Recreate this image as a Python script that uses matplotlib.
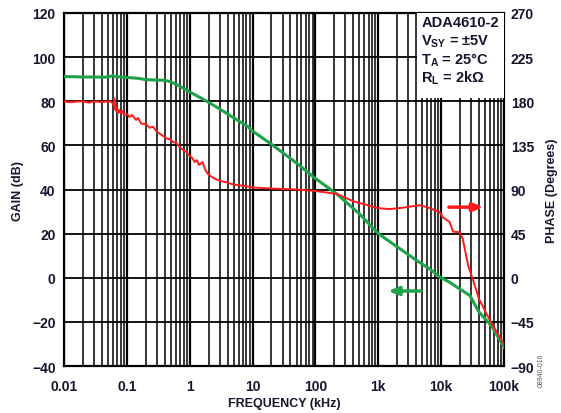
import matplotlib
matplotlib.use("Agg")
import matplotlib.pyplot as plt
from matplotlib.ticker import LogLocator, FixedLocator, NullFormatter
from matplotlib.patches import Rectangle

plt.rcParams['font.family'] = ['Liberation Sans', 'DejaVu Sans']
plt.rcParams['font.weight'] = 'bold'
plt.rcParams['mathtext.fontset'] = 'custom'
plt.rcParams['mathtext.rm'] = 'Liberation Sans:bold'
plt.rcParams['mathtext.it'] = 'Liberation Sans:bold'
plt.rcParams['mathtext.bf'] = 'Liberation Sans:bold'

# Open-loop gain (dB) versus frequency (kHz)
gain_freq = [0.01, 0.015, 0.02, 0.03, 0.04, 0.05, 0.06, 0.065, 0.08, 0.1, 0.15,
             0.2, 0.3, 0.4, 0.5, 0.7, 1, 1.5, 2, 3, 5, 8.4, 10, 20, 50, 100,
             218, 500, 1000, 2000, 4000, 6600, 9500, 13600, 19500, 28500,
             40000, 64000, 100000]
gain_db = [91.2, 91.1, 91.0, 91.0, 90.9, 91.0, 91.6, 91.2, 91.0, 90.8, 90.4,
           89.8, 89.6, 89.5, 88.8, 86.8, 84.2, 81.5, 79.5, 76.5, 72.5, 68.5,
           66.5, 60.5, 52.0, 45.0, 38.0, 29.0, 20.0, 14.0, 8.0, 4.0, 0.3, -2.0,
           -5.0, -8.0, -15.5, -22.0, -31.5]

# Open-loop phase (degrees) versus frequency (kHz)
phase_freq = [0.01, 0.012, 0.015, 0.02, 0.025, 0.03, 0.04, 0.05, 0.055, 0.06,
              0.062, 0.063, 0.064, 0.066, 0.068, 0.07, 0.073, 0.075, 0.08,
              0.085, 0.09, 0.1, 0.11, 0.12, 0.14, 0.15, 0.17, 0.2, 0.23, 0.26,
              0.3, 0.35, 0.43, 0.5, 0.55, 0.6, 0.7, 0.8, 0.9, 1, 1.1, 1.2, 1.3,
              1.4, 1.6, 1.8, 2, 2.5, 3, 4, 5, 7.6, 10, 20, 50, 100, 218, 400,
              1000, 1500, 2500, 4500, 6000, 9500, 10500, 13600, 15500, 19500,
              22000, 27000, 33000, 40000, 58000, 100000]
phase_deg = [180, 179, 179.5, 180, 178.5, 180, 179, 180, 179.5, 178,
             176, 183, 172, 177, 170, 173, 168, 171, 168,
             170, 166, 167, 164, 166, 161, 163, 157, 157, 153, 154,
             149, 146, 142, 141, 138, 138, 133, 130, 128, 124, 122, 118, 120,
             115, 118, 109, 105, 101, 99, 97, 95, 93.6, 92, 91, 90, 88.5, 85.5,
             78, 71, 70, 71.5, 74, 72, 67, 62, 57, 47, 46.5,
             40, 12, -4.5, -21.6, -42, -68]

x_ticks = [0.01, 0.1, 1, 10, 100, 1000, 10000, 100000]
x_labels = ["0.01", "0.1", "1", "10", "100", "1k", "10k", "100k"]
gain_ticks = [-40, -20, 0, 20, 40, 60, 80, 100, 120]
phase_ticks = [-90, -45, 0, 45, 90, 135, 180, 225, 270]

info_lines = ["ADA4610-2", r"V$_{SY}$ = ±5V", r"T$_{A}$ = 25°C", r"R$_{L}$ = 2kΩ"]

text_color = "#15152e"
green = "#1fa24a"
red = "#ff1a1a"

fig = plt.figure(figsize=(5.61, 4.14), dpi=100)
ax = fig.add_axes([0.1141, 0.1135, 0.7843, 0.8527])
ax.set_xscale("log")
ax.set_xlim(0.01, 100000)
ax.set_ylim(-40, 120)
ax.xaxis.set_major_locator(FixedLocator(x_ticks))
ax.set_xticklabels(x_labels)
ax.xaxis.set_minor_locator(LogLocator(base=10, subs=range(2, 10), numticks=20))
ax.xaxis.set_minor_formatter(NullFormatter())
ax.set_yticks(gain_ticks)

ax.grid(True, which="major", axis="x", color="black", linewidth=1.6)
ax.grid(True, which="minor", axis="x", color="black", linewidth=1.1)
ax.grid(True, which="major", axis="y", color="black", linewidth=1.3)

ax.tick_params(axis="both", which="both", length=0, labelsize=10, colors=text_color)
ax.tick_params(axis="y", pad=6)
ax.tick_params(axis="x", pad=9)
for s in ax.spines.values():
    s.set_linewidth(1.6)
    s.set_color("black")

# white panel holding the test conditions
ax.add_patch(Rectangle((0.802, 0.76), 0.2, 0.25, transform=ax.transAxes,
                       facecolor="white", edgecolor="none", zorder=3,
                       clip_on=True))
ys = [0.9745, 0.921, 0.869, 0.818]
for t, y in zip(info_lines, ys):
    ax.text(0.812, y, t, transform=ax.transAxes, fontsize=10.5, fontweight="bold",
            color=text_color, va="center", ha="left", zorder=4)

ax.plot(gain_freq, gain_db, color=green, linewidth=2.2, zorder=5)

ax2 = ax.twinx()
ax2.set_ylim(-90, 270)
ax2.set_yticks(phase_ticks)
ax2.tick_params(axis="y", length=0, labelsize=10, colors=text_color, pad=5)
for s in ax2.spines.values():
    s.set_visible(False)
ax2.plot(phase_freq, phase_deg, color=red, linewidth=1.4, zorder=5)

# arrows telling which axis each curve belongs to
ax.annotate("", xy=(52000, 32), xytext=(12000, 32),
            arrowprops=dict(arrowstyle="-|>,head_length=0.6,head_width=0.25",
                            color=red, linewidth=2.5), zorder=6)
ax.annotate("", xy=(1300, -6), xytext=(5300, -6),
            arrowprops=dict(arrowstyle="-|>,head_length=0.6,head_width=0.25",
                            color=green, linewidth=2.5), zorder=6)

ax.set_xlabel("FREQUENCY (kHz)", fontsize=9, fontweight="bold",
              color=text_color, labelpad=3)
ax.set_ylabel("GAIN (dB)", fontsize=9, fontweight="bold", color=text_color,
              labelpad=6)
ax2.set_ylabel("PHASE (Degrees)", fontsize=9, fontweight="bold",
               color=text_color, labelpad=8)

fig.text(0.965, 0.105, "08940-016", rotation=90, fontsize=5, color="#555555",
         ha="center", va="center", fontweight="normal")

fig.savefig("out.png", dpi=100)
